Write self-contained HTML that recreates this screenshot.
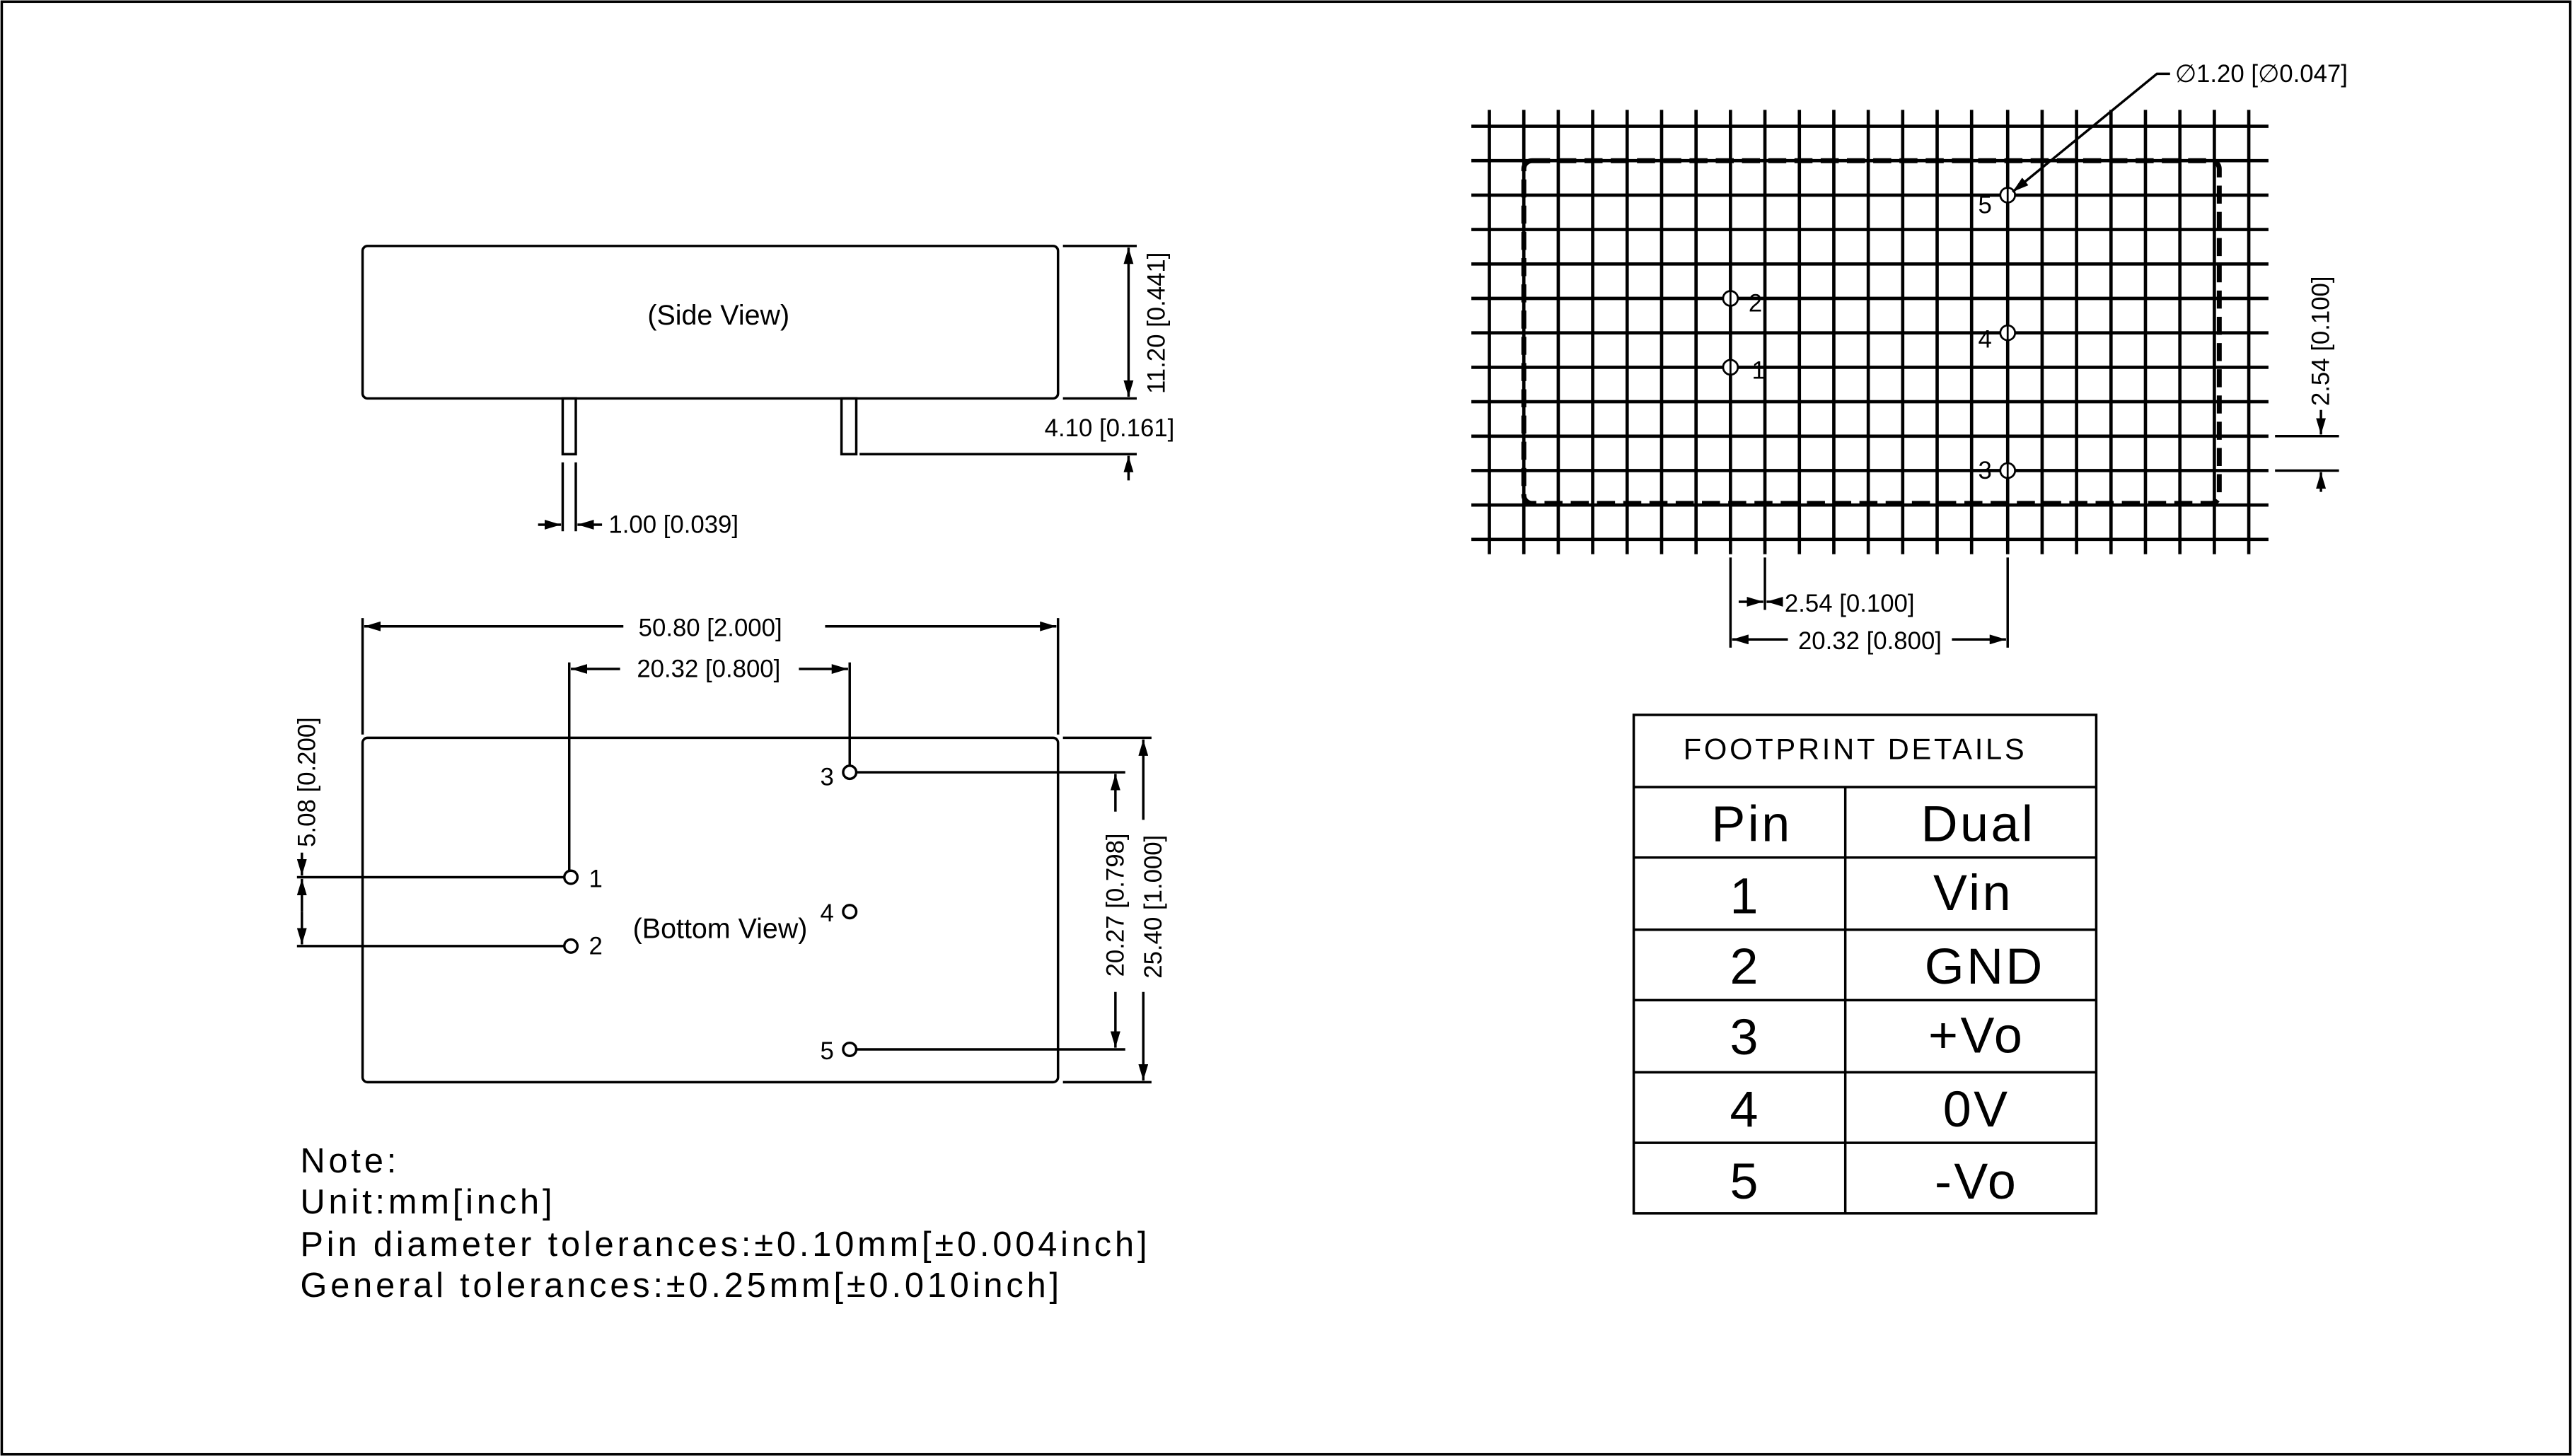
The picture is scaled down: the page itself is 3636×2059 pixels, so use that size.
<!DOCTYPE html>
<html><head><meta charset="utf-8"><style>
html,body{margin:0;padding:0;background:#fff}
svg{display:block}
text{font-family:"Liberation Sans",sans-serif;fill:#000}
</style></head><body>
<svg width="3636" height="2059" viewBox="0 0 1568 888" xmlns="http://www.w3.org/2000/svg">
<defs>
<marker id="a" viewBox="0 0 10 6" refX="10" refY="3" markerWidth="10" markerHeight="6" markerUnits="userSpaceOnUse" orient="auto"><path d="M0,0 L10,3 L0,6 z" fill="#000"/></marker>
</defs>
<rect x="1" y="1" width="1566" height="886" fill="#fff" stroke="#000" stroke-width="1.5"/>
<g stroke="#000" stroke-width="1.5" fill="none">
<rect x="221" y="150" width="424" height="93" rx="3"/>
<rect x="343" y="243" width="8" height="34"/>
<rect x="513" y="243" width="9" height="34"/>
<line x1="648" y1="150" x2="693" y2="150"/>
<line x1="648" y1="243" x2="693" y2="243"/>
<line x1="688" y1="196" x2="688" y2="151" marker-end="url(#a)"/>
<line x1="688" y1="196" x2="688" y2="242" marker-end="url(#a)"/>
<line x1="524" y1="277" x2="693" y2="277"/>
<line x1="688" y1="293" x2="688" y2="278" marker-end="url(#a)"/>
<line x1="343" y1="282" x2="343" y2="324"/>
<line x1="351" y1="282" x2="351" y2="324"/>
<line x1="328" y1="320" x2="342" y2="320" marker-end="url(#a)"/>
<line x1="367" y1="320" x2="352" y2="320" marker-end="url(#a)"/>
<rect x="221" y="450" width="424" height="210" rx="3"/>
<line x1="221" y1="377" x2="221" y2="448"/>
<line x1="645" y1="377" x2="645" y2="448"/>
<line x1="380" y1="382" x2="222" y2="382" marker-end="url(#a)"/>
<line x1="503" y1="382" x2="644" y2="382" marker-end="url(#a)"/>
<line x1="347" y1="404" x2="347" y2="531"/>
<line x1="518" y1="404" x2="518" y2="467"/>
<line x1="378" y1="408" x2="348" y2="408" marker-end="url(#a)"/>
<line x1="487" y1="408" x2="517" y2="408" marker-end="url(#a)"/>
<circle cx="348" cy="535" r="4"/>
<circle cx="348" cy="577" r="4"/>
<circle cx="518" cy="471" r="4"/>
<circle cx="518" cy="556" r="4"/>
<circle cx="518" cy="640" r="4"/>
<line x1="181" y1="535" x2="344" y2="535"/>
<line x1="181" y1="577" x2="344" y2="577"/>
<line x1="184" y1="520" x2="184" y2="534" marker-end="url(#a)"/>
<line x1="184" y1="556" x2="184" y2="536" marker-end="url(#a)"/>
<line x1="184" y1="556" x2="184" y2="576" marker-end="url(#a)"/>
<line x1="522" y1="471" x2="686" y2="471"/>
<line x1="522" y1="640" x2="686" y2="640"/>
<line x1="680" y1="495" x2="680" y2="472" marker-end="url(#a)"/>
<line x1="680" y1="605" x2="680" y2="639" marker-end="url(#a)"/>
<line x1="648" y1="450" x2="702" y2="450"/>
<line x1="648" y1="660" x2="702" y2="660"/>
<line x1="697" y1="500" x2="697" y2="451" marker-end="url(#a)"/>
<line x1="697" y1="605" x2="697" y2="659" marker-end="url(#a)"/>
</g>
<g font-size="16">
<text x="438" y="198" text-anchor="middle" font-size="17">(Side View)</text>
<text x="0" y="0" transform="translate(710,197) rotate(-90)" text-anchor="middle" font-size="15">11.20 [0.441]</text>
<text x="716" y="266" text-anchor="end" font-size="15">4.10 [0.161]</text>
<text x="371" y="325" font-size="15">1.00 [0.039]</text>
<text x="433" y="388" text-anchor="middle" font-size="15">50.80 [2.000]</text>
<text x="432" y="413" text-anchor="middle" font-size="15">20.32 [0.800]</text>
<text x="0" y="0" transform="translate(192,477) rotate(-90)" text-anchor="middle" font-size="15">5.08 [0.200]</text>
<text x="0" y="0" transform="translate(685,552) rotate(-90)" text-anchor="middle" font-size="15">20.27 [0.798]</text>
<text x="0" y="0" transform="translate(708,553) rotate(-90)" text-anchor="middle" font-size="15">25.40 [1.000]</text>
<text x="359" y="541" font-size="15">1</text>
<text x="359" y="582" font-size="15">2</text>
<text x="500" y="479" font-size="15">3</text>
<text x="500" y="562" font-size="15">4</text>
<text x="500" y="646" font-size="15">5</text>
<text x="439" y="572" text-anchor="middle" font-size="17">(Bottom View)</text>
</g>
<g font-size="21" letter-spacing="2.1">
<text x="183" y="715">Note:</text>
<text x="183" y="740">Unit:mm[inch]</text>
<text x="183" y="766">Pin diameter tolerances:±0.10mm[±0.004inch]</text>
<text x="183" y="791">General tolerances:±0.25mm[±0.010inch]</text>
</g>
<g stroke="#000" stroke-width="2">
<line x1="908" y1="67" x2="908" y2="338"/><line x1="929" y1="67" x2="929" y2="338"/><line x1="950" y1="67" x2="950" y2="338"/><line x1="971" y1="67" x2="971" y2="338"/><line x1="992" y1="67" x2="992" y2="338"/><line x1="1013" y1="67" x2="1013" y2="338"/><line x1="1034" y1="67" x2="1034" y2="338"/><line x1="1055" y1="67" x2="1055" y2="338"/><line x1="1076" y1="67" x2="1076" y2="338"/><line x1="1097" y1="67" x2="1097" y2="338"/><line x1="1118" y1="67" x2="1118" y2="338"/><line x1="1139" y1="67" x2="1139" y2="338"/><line x1="1160" y1="67" x2="1160" y2="338"/><line x1="1181" y1="67" x2="1181" y2="338"/><line x1="1202" y1="67" x2="1202" y2="338"/><line x1="1224" y1="67" x2="1224" y2="338"/><line x1="1245" y1="67" x2="1245" y2="338"/><line x1="1266" y1="67" x2="1266" y2="338"/><line x1="1287" y1="67" x2="1287" y2="338"/><line x1="1308" y1="67" x2="1308" y2="338"/><line x1="1329" y1="67" x2="1329" y2="338"/><line x1="1350" y1="67" x2="1350" y2="338"/><line x1="1371" y1="67" x2="1371" y2="338"/>
<line x1="897" y1="77" x2="1383" y2="77"/><line x1="897" y1="98" x2="1383" y2="98"/><line x1="897" y1="119" x2="1383" y2="119"/><line x1="897" y1="140" x2="1383" y2="140"/><line x1="897" y1="161" x2="1383" y2="161"/><line x1="897" y1="182" x2="1383" y2="182"/><line x1="897" y1="203" x2="1383" y2="203"/><line x1="897" y1="224" x2="1383" y2="224"/><line x1="897" y1="245" x2="1383" y2="245"/><line x1="897" y1="266" x2="1383" y2="266"/><line x1="897" y1="287" x2="1383" y2="287"/><line x1="897" y1="308" x2="1383" y2="308"/><line x1="897" y1="329" x2="1383" y2="329"/>
</g>
<rect x="929" y="98" width="424" height="209" rx="5" fill="none" stroke="#000" stroke-width="3" stroke-dasharray="11,5"/>
<g stroke="#000" stroke-width="1.2" fill="#fff">
<circle cx="1055" cy="224" r="4.5"/><circle cx="1055" cy="182" r="4.5"/><circle cx="1224" cy="119" r="4.5"/><circle cx="1224" cy="203" r="4.5"/><circle cx="1224" cy="287" r="4.5"/>
</g>
<g stroke="#000" stroke-width="1.2">
<line x1="1055" y1="218" x2="1055" y2="230"/><line x1="1055" y1="176" x2="1055" y2="188"/><line x1="1224" y1="113" x2="1224" y2="125"/><line x1="1224" y1="197" x2="1224" y2="209"/><line x1="1224" y1="281" x2="1224" y2="293"/>
</g>
<g font-size="15">
<text x="1066" y="190">2</text><text x="1068" y="231">1</text>
<text x="1206" y="130">5</text><text x="1206" y="212">4</text><text x="1206" y="292">3</text>
<text x="1326" y="50">∅1.20 [∅0.047]</text>
<text x="0" y="0" transform="translate(1420,208) rotate(-90)" text-anchor="middle">2.54 [0.100]</text>
<text x="1088" y="373">2.54 [0.100]</text>
<text x="1140" y="396" text-anchor="middle">20.32 [0.800]</text>
</g>
<g stroke="#000" stroke-width="1.5" fill="none">
<polyline points="1323,45 1315,45 1227,117" marker-end="url(#a)"/>
<line x1="1387" y1="266" x2="1426" y2="266"/>
<line x1="1387" y1="287" x2="1426" y2="287"/>
<line x1="1415" y1="250" x2="1415" y2="265" marker-end="url(#a)"/>
<line x1="1415" y1="300" x2="1415" y2="288" marker-end="url(#a)"/>
<line x1="1055" y1="340" x2="1055" y2="395"/>
<line x1="1076" y1="340" x2="1076" y2="372"/>
<line x1="1224" y1="340" x2="1224" y2="395"/>
<line x1="1060" y1="367" x2="1075" y2="367" marker-end="url(#a)"/>
<line x1="1086" y1="367" x2="1077" y2="367" marker-end="url(#a)"/>
<line x1="1090" y1="390" x2="1056" y2="390" marker-end="url(#a)"/>
<line x1="1190" y1="390" x2="1223" y2="390" marker-end="url(#a)"/>
<rect x="996" y="436" width="282" height="304"/>
<line x1="996" y1="480" x2="1278" y2="480"/>
<line x1="996" y1="523" x2="1278" y2="523"/>
<line x1="996" y1="567" x2="1278" y2="567"/>
<line x1="996" y1="610" x2="1278" y2="610"/>
<line x1="996" y1="654" x2="1278" y2="654"/>
<line x1="996" y1="697" x2="1278" y2="697"/>
<line x1="1125" y1="480" x2="1125" y2="740"/>
</g>
<text x="1131" y="463" text-anchor="middle" font-size="18" letter-spacing="1.6">FOOTPRINT DETAILS</text>
<g font-size="31" text-anchor="middle" letter-spacing="1.5">
<text x="1068" y="513">Pin</text><text x="1206" y="513">Dual</text>
<text x="1064" y="557">1</text><text x="1203" y="555">Vin</text>
<text x="1064" y="600">2</text><text x="1210" y="600">GND</text>
<text x="1064" y="643">3</text><text x="1205" y="642">+Vo</text>
<text x="1064" y="687">4</text><text x="1205" y="687">0V</text>
<text x="1064" y="731">5</text><text x="1205" y="731">-Vo</text>
</g>
</svg>
</body></html>
